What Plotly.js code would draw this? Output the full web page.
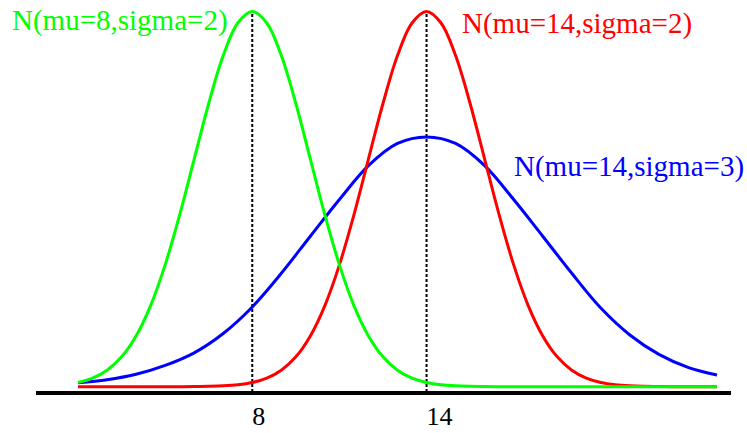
<!DOCTYPE html>
<html>
<head>
<meta charset="utf-8">
<script src="https://cdn.plot.ly/plotly-3.0.1.min.js"></script>
<style>
	html, body { margin: 0; padding: 0; background: #ffffff; }
	#chart { width: 747px; height: 433px; }
</style>
</head>
<body>
<div id="chart"></div>
<script>
// Densities, x in steps of 0.5 from 2 to 24.
var xFine = [];
for( let i = 0; i <= 44; i++ )
	xFine.push( 2 + i * 0.5 );

var greenY = [
	0.00222, 0.00455, 0.00876, 0.01587, 0.02700, 0.04314, 0.06476, 0.09132, 0.12099, 0.15057,
	0.17603, 0.19333, 0.19947, 0.19333, 0.17603, 0.15057, 0.12099, 0.09132, 0.06476, 0.04314,
	0.02700, 0.01587, 0.00876, 0.00455, 0.00222, 0.00101, 0.00044, 0.00018, 0.00007, 0.00003,
	0.00001, 0, 0, 0, 0, 0, 0, 0, 0, 0,
	0, 0, 0, 0, 0
];

var redY = [
	0, 0, 0, 0, 0, 0, 0.00001, 0.00003, 0.00007, 0.00018,
	0.00044, 0.00101, 0.00222, 0.00455, 0.00876, 0.01587, 0.02700, 0.04314, 0.06476, 0.09132,
	0.12099, 0.15057, 0.17603, 0.19333, 0.19947, 0.19333, 0.17603, 0.15057, 0.12099, 0.09132,
	0.06476, 0.04314, 0.02700, 0.01587, 0.00876, 0.00455, 0.00222, 0.00101, 0.00044, 0.00018,
	0.00007, 0.00003, 0.00001, 0, 0
];

// The blue curve is read at whole numbers only.
var xBlue = [ 2, 3, 4, 5, 6, 7, 8, 9, 10, 11, 12, 13, 14, 15, 16, 17, 18, 19, 20, 21, 22, 23, 24 ];
var blueY = [
	0.0021, 0.0037, 0.0066, 0.0113, 0.0180, 0.0283, 0.0424, 0.0603, 0.0800, 0.0995,
	0.1175, 0.1293, 0.1328, 0.1293, 0.1175, 0.0995, 0.0800, 0.0603, 0.0418, 0.0275,
	0.0172, 0.0103, 0.0062
];

var means 		= [ 8, 14 ],
	tickLabels 	= [ "8", "14" ],
	seriesNames = [ "N(mu=8,sigma=2)", "N(mu=14,sigma=2)", "N(mu=14,sigma=3)" ];

var serif = "Liberation Serif, Times New Roman, serif";

var traces = [];

// Dotted guides from below the axis up to each peak.
var peaks = [ Math.max.apply( null, greenY ), Math.max.apply( null, redY ) ];
for( let i = 0; i < means.length; i++ )
{
	traces.push( {
		x: [ means[ i ], means[ i ] ],
		y: [ -0.0055, peaks[ i ] ],
		mode: "lines",
		line: { color: "#000000", width: 2, dash: "3px,2px" },
		cliponaxis: false,
		hoverinfo: "skip"
	} );
}

traces.push( { x: xBlue, y: blueY, mode: "lines", line: { color: "#0000ff", width: 3, shape: "spline" } } );
traces.push( { x: xFine, y: redY, mode: "lines", line: { color: "#ff0000", width: 3, shape: "spline" } } );
traces.push( { x: xFine, y: greenY, mode: "lines", line: { color: "#00ff00", width: 3, shape: "spline" } } );

var layout = {
	width: 747,
	height: 433,
	margin: { l: 36, r: 16, t: 0, b: 42 },
	paper_bgcolor: "#ffffff",
	plot_bgcolor: "#ffffff",
	showlegend: false,
	font: { family: serif, color: "#000000" },
	xaxis: {
		range: [ 0.554, 24.482 ],
		showgrid: false,
		zeroline: false,
		showline: true,
		linecolor: "#000000",
		linewidth: 4,
		ticks: "",
		tickvals: means,
		ticktext: tickLabels,
		ticklabelposition: "outside right",
		ticklabelshift: -2,
		ticklabelstandoff: -1,
		tickfont: { family: serif, size: 26, color: "#000000" }
	},
	yaxis: {
		range: [ -0.00229, 0.20558 ],
		visible: false,
		showgrid: false,
		zeroline: false
	},
	annotations: [
		{ text: seriesNames[ 0 ], xref: "paper", yref: "paper", x: -0.0374, y: 0.9488, xanchor: "left", yanchor: "middle", showarrow: false, font: { family: serif, size: 29, color: "#00ff00" } },
		{ text: seriesNames[ 1 ], xref: "paper", yref: "paper", x: 0.610, y: 0.9394, xanchor: "left", yanchor: "middle", showarrow: false, font: { family: serif, size: 29, color: "#ff0000" } },
		{ text: seriesNames[ 2 ], xref: "paper", yref: "paper", x: 0.685, y: 0.5729, xanchor: "left", yanchor: "middle", showarrow: false, font: { family: serif, size: 29, color: "#0000ff" } }
	]
};

Plotly.newPlot( "chart", traces, layout, { staticPlot: true, displayModeBar: false } );
</script>
</body>
</html>
